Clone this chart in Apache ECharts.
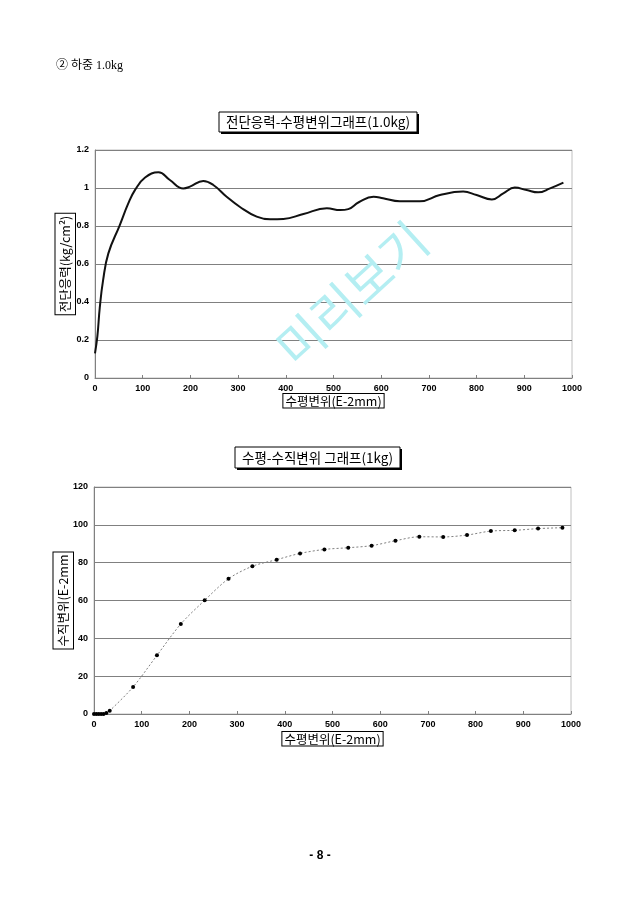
<!DOCTYPE html>
<html>
<head>
<meta charset="utf-8">
<script src="https://cdn.jsdelivr.net/npm/echarts@6/dist/echarts.min.js"></script>
<style>
html,body{margin:0;padding:0;background:#fff;}
#c{width:640px;height:905px;}
</style>
</head>
<body>
<div id="c"></div>
<script>
// ---- data ----
const shearX = [0, 5, 10, 17, 28, 52, 70, 84, 105, 133, 157, 185, 199, 227, 248, 276, 304, 339, 367, 395, 437, 486, 514, 531, 553, 584, 604, 639, 681, 723, 772, 800, 832, 856, 880, 905, 929, 954, 982];
const shearY = [0.13, 0.22, 0.37, 0.515, 0.656, 0.805, 0.92, 0.99, 1.055, 1.083, 1.042, 0.998, 1.007, 1.037, 1.016, 0.954, 0.90, 0.849, 0.835, 0.837, 0.863, 0.893, 0.884, 0.889, 0.925, 0.954, 0.946, 0.93, 0.93, 0.963, 0.981, 0.963, 0.94, 0.972, 1.002, 0.989, 0.977, 0.998, 1.028];
const dispX = [0, 5, 10, 15, 20, 26, 33, 82, 132, 182, 232, 282, 332, 383, 432, 483, 533, 582, 632, 682, 732, 782, 832, 882, 931, 982];
const dispY = [0, 0, 0, 0, 0, 0.5, 1.7, 14.3, 31.0, 47.6, 60.1, 71.5, 78.1, 81.6, 84.9, 87.0, 87.9, 89.0, 91.6, 93.7, 93.6, 94.6, 96.7, 97.1, 98.0, 98.5];
const headerText = '② 하중 1.0kg';
const title1 = '전단응력-수평변위그래프(1.0kg)';
const title2 = '수평-수직변위 그래프(1kg)';
const xName = '수평변위(E-2mm)';
const yName1 = '전단응력(kg/cm²)';
const yName2 = '수직변위(E-2mm';
const pageNo = '- 8 -';
const watermark = '미리보기';

const KR = "'Noto Sans CJK KR', sans-serif";
const tickFont = {fontFamily: "'Liberation Sans', Arial, sans-serif", fontSize: 9, fontWeight: 'bold', color: '#000'};
const xNameStyle = {fontFamily: KR, fontSize: 12.5, color: '#000', borderColor: '#000', borderWidth: 1, padding: [1, 2, 0, 2], backgroundColor: '#fff'};
const yNameStyle = {fontFamily: KR, fontSize: 12.5, color: '#000', borderColor: '#000', borderWidth: 1, padding: [4, 2, 3, 2], backgroundColor: '#fff'};

function xAxisCfg(idx, gap) {
  return {
    type: 'value', gridIndex: idx, min: 0, max: 1000, interval: 100,
    name: xName, nameLocation: 'middle', nameGap: gap, nameMoveOverlap: false, nameTextStyle: xNameStyle,
    axisLine: {show: true, lineStyle: {color: '#808080', width: 1}},
    axisTick: {show: true, inside: true, length: 3, lineStyle: {color: '#808080'}},
    axisLabel: Object.assign({margin: 6, formatter: v => String(v)}, tickFont),
    splitLine: {show: false}
  };
}
function yAxisCfg(idx, max, interval, name, gap, fmt) {
  return {
    type: 'value', gridIndex: idx, min: 0, max: max, interval: interval,
    name: name, nameLocation: 'middle', nameRotate: 90, nameGap: gap, nameMoveOverlap: false, nameTextStyle: yNameStyle,
    axisLine: {show: true, lineStyle: {color: '#808080', width: 1}},
    axisTick: {show: false},
    axisLabel: Object.assign({margin: 6, formatter: fmt}, tickFont),
    splitLine: {show: true, lineStyle: {color: '#808080', width: 1}}
  };
}

const chart = echarts.init(document.getElementById('c'), null, {renderer: 'canvas'});
chart.setOption({
  backgroundColor: '#fff',
  animation: false,
  grid: [
    {left: 95, right: 68, top: 150, height: 228, show: true, borderColor: '#c0c0c0', borderWidth: 1, backgroundColor: '#fff'},
    {left: 94, right: 69, top: 487, height: 227, show: true, borderColor: '#c0c0c0', borderWidth: 1, backgroundColor: '#fff'}
  ],
  xAxis: [xAxisCfg(0, 16), xAxisCfg(1, 18)],
  yAxis: [
    yAxisCfg(0, 1.2, 0.2, yName1, 20, v => String(Number(v.toFixed(1)))),
    yAxisCfg(1, 120, 20, yName2, 21, v => String(v))
  ],
  series: [
    {
      type: 'line', xAxisIndex: 0, yAxisIndex: 0,
      data: shearX.map((x, i) => [x, shearY[i]]),
      smooth: 0.45, showSymbol: false, symbol: 'none',
      lineStyle: {color: '#111', width: 2}
    },
    {
      type: 'line', xAxisIndex: 1, yAxisIndex: 1,
      data: dispX.map((x, i) => [x, dispY[i]]),
      smooth: 0.3, symbol: 'circle', symbolSize: 4, showSymbol: true,
      itemStyle: {color: '#000'},
      lineStyle: {color: '#808080', width: 1, type: [2, 2]}
    }
  ],
  graphic: [
    {type: 'text', left: 56, top: 60, style: {text: headerText, font: "12px 'Liberation Serif', 'Noto Sans CJK KR', serif", fill: '#000'}},
    // title 1 box
    {type: 'rect', shape: {x: 221, y: 114, width: 198, height: 20}, style: {fill: '#000'}, z: 10},
    {type: 'rect', shape: {x: 219, y: 112, width: 198, height: 20}, style: {fill: '#fff', stroke: '#000', lineWidth: 1}, z: 11},
    {type: 'text', x: 318, y: 122, style: {text: title1, font: "13.5px " + KR, fill: '#000', align: 'center', verticalAlign: 'middle'}, z: 12},
    // title 2 box
    {type: 'rect', shape: {x: 237, y: 449, width: 165, height: 21}, style: {fill: '#000'}, z: 10},
    {type: 'rect', shape: {x: 235, y: 447, width: 165, height: 21}, style: {fill: '#fff', stroke: '#000', lineWidth: 1}, z: 11},
    {type: 'text', x: 317.5, y: 457.5, style: {text: title2, font: "13.5px " + KR, fill: '#000', align: 'center', verticalAlign: 'middle'}, z: 12},
    // page number
    {type: 'text', x: 320, y: 856, style: {text: pageNo, font: "bold 12px 'Liberation Sans', sans-serif", fill: '#000', align: 'center', verticalAlign: 'middle'}},
    // watermark
    {type: 'text', x: 352, y: 294, rotation: 0.74, style: {text: watermark, font: "50px " + KR, fill: '#b4eef2', align: 'center', verticalAlign: 'middle'}, z: 50}
  ]
});
</script>
</body>
</html>
